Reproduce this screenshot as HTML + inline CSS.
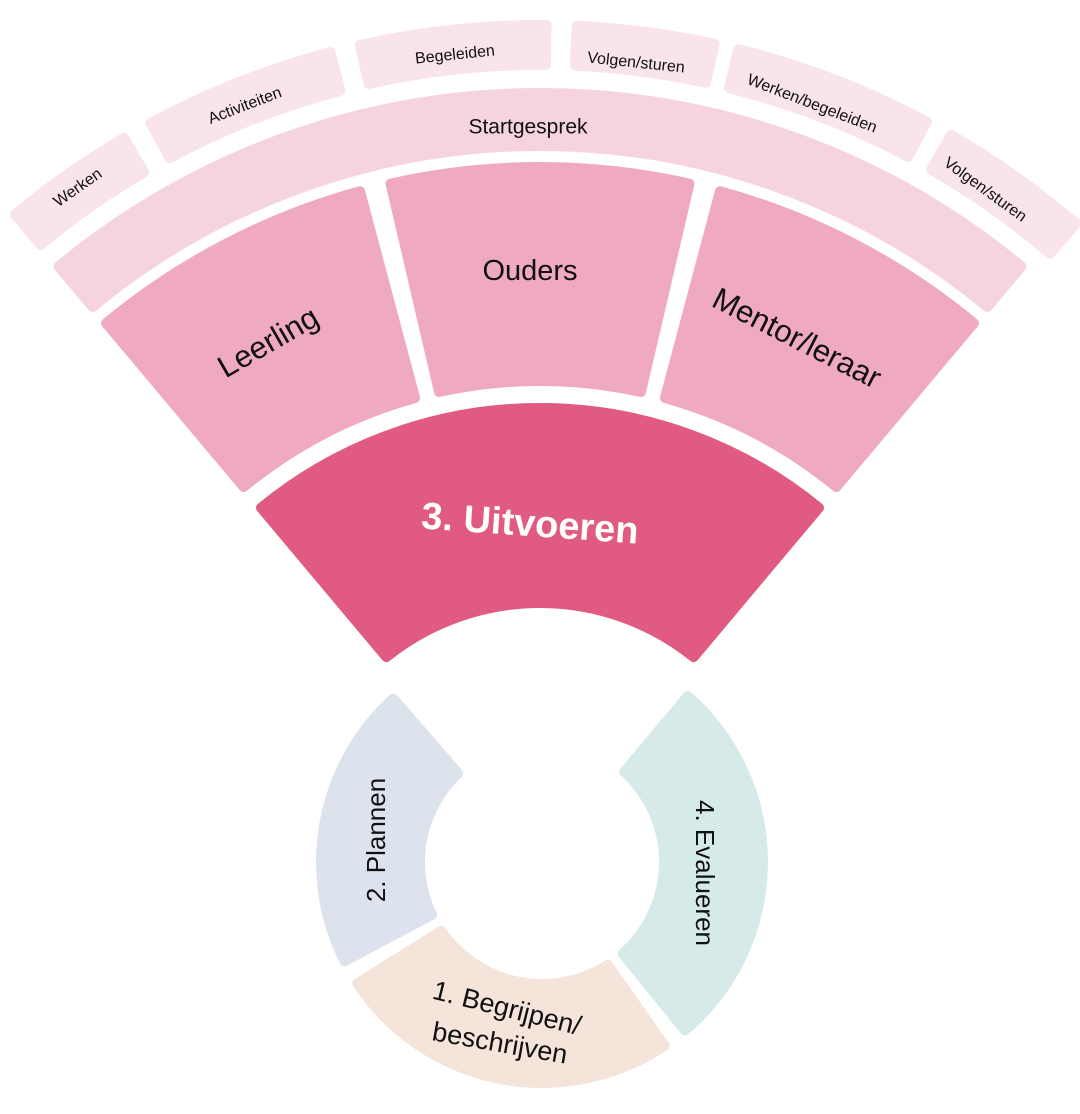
<!DOCTYPE html>
<html><head><meta charset="utf-8"><style>
html,body{margin:0;padding:0;background:#fff;width:1080px;height:1114px;overflow:hidden}
svg{display:block}
text{font-family:"Liberation Sans","DejaVu Sans",sans-serif;fill:#111;text-anchor:middle;dominant-baseline:central}
</style></head><body>
<svg id="s" width="1080" height="1114" viewBox="0 0 1080 1114" xmlns="http://www.w3.org/2000/svg">
<g id="shapes"></g>
<g>
<text x="78" y="188" font-size="16" transform="rotate(-35 78 188)">Werken</text>
<text x="245" y="106" font-size="16" transform="rotate(-21 245 106)">Activiteiten</text>
<text x="455" y="55" font-size="16" transform="rotate(-6 455 55)">Begeleiden</text>
<text x="636" y="63" font-size="16" transform="rotate(6 636 63)">Volgen/sturen</text>
<text x="812" y="104" font-size="16" transform="rotate(21 812 104)">Werken/begeleiden</text>
<text x="985" y="190" font-size="16" transform="rotate(36 985 190)">Volgen/sturen</text>
<text x="528" y="127" font-size="21">Startgesprek</text>
<text x="268" y="342" font-size="31" transform="rotate(-30 268 342)">Leerling</text>
<text x="530" y="271" font-size="29">Ouders</text>
<text x="797" y="338" font-size="31" transform="rotate(27 797 338)">Mentor/leraar</text>
<text x="530" y="524" font-size="38" font-weight="bold" style="fill:#fff" transform="rotate(4 530 524)">3. Uitvoeren</text>
<text x="376" y="840" font-size="26" transform="rotate(-90 376 840)">2. Plannen</text>
<text x="705" y="873" font-size="26" transform="rotate(90 705 873)">4. Evalueren</text>
<text x="507" y="1008" font-size="27" transform="rotate(14 507 1008)">1. Begrijpen/</text>
<text x="500" y="1043" font-size="27" transform="rotate(10 500 1043)">beschrijven</text>
</g>
</svg>
<script>
function P(cx,cy,r,a){a=a*Math.PI/180;return [cx+r*Math.sin(a),cy-r*Math.cos(a)];}
function sector(cx,cy,r1,r2,a1,a2,col){
  var sh=5; r1+=sh; r2-=sh;
  var d1=sh/r1*180/Math.PI, d2=sh/r2*180/Math.PI;
  var p1=P(cx,cy,r2,a1+d2),p2=P(cx,cy,r2,a2-d2),p3=P(cx,cy,r1,a2-d1),p4=P(cx,cy,r1,a1+d1);
  var lg2=(a2-a1-2*d2)>180?1:0, lg1=(a2-a1-2*d1)>180?1:0;
  var d="M"+p1+" A"+r2+","+r2+" 0 "+lg2+" 1 "+p2+" L"+p3+" A"+r1+","+r1+" 0 "+lg1+" 0 "+p4+" Z";
  var e=document.createElementNS("http://www.w3.org/2000/svg","path");
  e.setAttribute("d",d);e.setAttribute("fill",col);e.setAttribute("stroke",col);
  e.setAttribute("stroke-width","10");e.setAttribute("stroke-linejoin","round");
  document.getElementById("shapes").appendChild(e);
}
var cx=540,cy=848;
var o="#f9e4ee";
[[-40,-30],[-28.6,-14.4],[-13,0.8],[2.2,12.6],[13.6,28.4],[29.6,41]].forEach(function(a){sector(cx,cy,778,828,a[0],a[1],o);});
sector(cx,cy,697,760,-40,40,"#f6d4de");
var m="#f0aac0";
sector(cx,cy,462,686,-40,-14.9,m);
sector(cx,cy,462,686,-13.1,13.1,m);
sector(cx,cy,462,686,14.9,40,m);
sector(cx,cy,240,445,-40,40,"#e05a82");
var rx=542,ry=862;
sector(rx,ry,117,226,242,319,"#dde3ec");
sector(rx,ry,117,226,145,238,"#f5e4da");
sector(rx,ry,117,226,40,141,"#d7eaea");
</script>
</body></html>
